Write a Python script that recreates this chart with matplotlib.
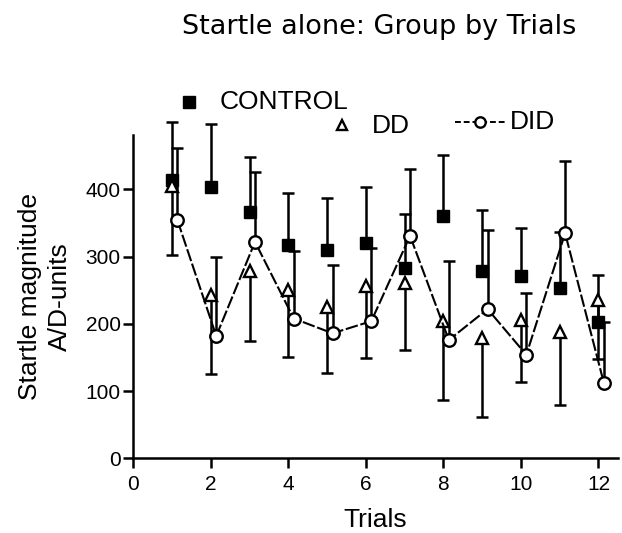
import matplotlib
matplotlib.use('Agg')
import matplotlib.pyplot as plt
import numpy as np

plt.rcParams['font.family'] = ['Liberation Sans', 'DejaVu Sans']

trials = np.arange(1, 13)
control = [414, 403, 366, 318, 310, 321, 283, 360, 279, 271, 254, 203]
control_sem = [87, 94, 83, 76, 78, 83, 81, 92, 91, 72, 83, 69]
dd = [405, 243, 279, 251, 225, 257, 261, 204, 179, 206, 188, 236]
dd_sem = [102, 118, 104, 100, 98, 108, 100, 117, 117, 92, 108, 88]
did = [354, 182, 322, 208, 186, 204, 331, 176, 222, 154, 335, 112]
did_sem = [107, 118, 104, 100, 101, 109, 100, 118, 118, 92, 108, 91]
did_shift = 0.14
xticks = [0, 2, 4, 6, 8, 10, 12]
yticks = [0, 100, 200, 300, 400]

fig = plt.figure(figsize=(6.22, 5.33), dpi=100)
ax = fig.add_axes([0.2143, 0.1401, 0.779, 0.6066])


def one_sided(x, y, err, up):
    # prism style error bar: only one half, cap at the far end
    y = np.asarray(y, dtype=float)
    err = np.asarray(err, dtype=float)
    zero = np.zeros_like(err)
    yerr = [zero, err] if up else [err, zero]
    cont = ax.errorbar(x, y, yerr=yerr, fmt='none', ecolor='black', elinewidth=1.8,
                       capsize=4, capthick=1.8, zorder=2, clip_on=False)
    for cap in cont[1]:
        if np.allclose(cap.get_ydata(), y):
            cap.set_visible(False)


one_sided(trials, control, control_sem, up=True)
one_sided(trials, dd, dd_sem, up=False)
one_sided(trials + did_shift, did, did_sem, up=True)

ax.plot(trials, control, 's', color='black', ms=8.5, zorder=3, clip_on=False)
ax.plot(trials, dd, '^', mfc='white', mec='black', mew=1.7, ms=8, zorder=3, clip_on=False)
ax.plot(trials + did_shift, did, '--o', color='black', lw=1.5, dashes=(6, 1.3),
        mfc='white', mec='black', mew=1.7, ms=9, zorder=4, clip_on=False)

ax.set_xlim(0, 12.5)
ax.set_ylim(0, 481)
ax.set_xticks(xticks)
ax.set_yticks(yticks)
ax.tick_params(labelsize=15, width=1.8, length=7, color='black')
ax.tick_params(axis='x', pad=5)
ax.tick_params(axis='y', pad=2)
for s in ['top', 'right']:
    ax.spines[s].set_visible(False)
for s in ['left', 'bottom']:
    ax.spines[s].set_linewidth(1.8)

ax.set_xlabel('Trials', fontsize=19, labelpad=10)
ax.set_ylabel('Startle magnitude\nA/D-units', fontsize=19, labelpad=10, linespacing=1.3)

fig.text(0.61, 0.936, 'Startle alone: Group by Trials', fontsize=19.5, ha='center',
         va='baseline', family='DejaVu Sans')

# free floating legend like the original
lg = fig.add_axes([0, 0, 1, 1], facecolor='none')
lg.set_xlim(0, 622)
lg.set_ylim(533, 0)
lg.axis('off')
lg.plot([189], [102], 's', color='black', ms=8)
lg.text(220, 102, 'CONTROL', fontsize=19, va='center')
lg.plot([342], [125], '^', mfc='white', mec='black', mew=1.7, ms=7)
lg.text(372, 126, 'DD', fontsize=19, va='center')
lg.plot([455, 505], [122, 122], '--', color='black', lw=1.4, dashes=(3, 1.5))
lg.plot([480], [122], 'o', mfc='white', mec='black', mew=1.7, ms=7.5)
lg.text(510, 122, 'DID', fontsize=19, va='center')

fig.savefig('out.png', dpi=100)
